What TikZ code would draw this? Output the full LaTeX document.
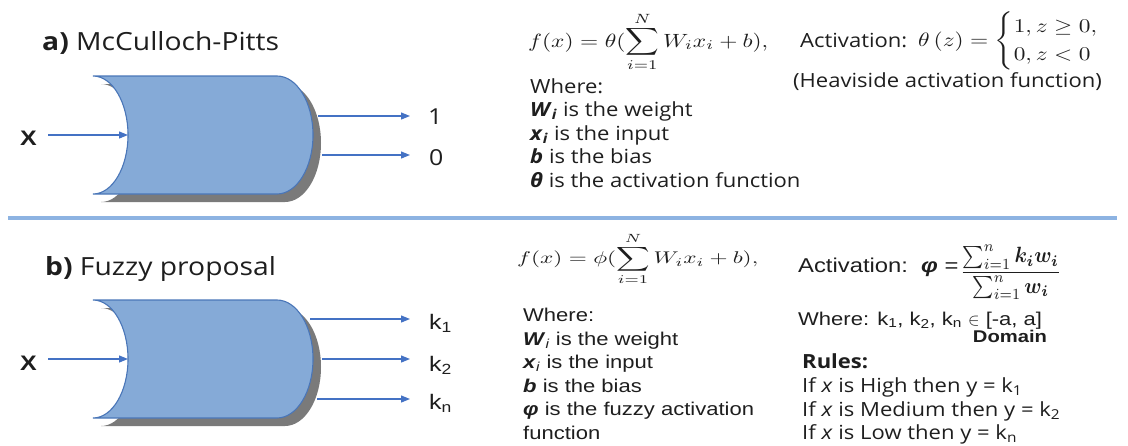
\documentclass[tikz,border=0pt]{standalone}
\usepackage{amsmath}
\usepackage{fontspec}
\setmainfont{Open Sans}[FakeStretch=1.13]
\newfontfamily\arial{Liberation Sans}[FakeStretch=1.19]
\usetikzlibrary{arrows.meta,calc}
\definecolor{gfill}{HTML}{85AAD7}
\definecolor{gline}{HTML}{4A76B8}
\definecolor{arrc}{HTML}{4472C4}
\definecolor{divc}{HTML}{8DB3E2}
\definecolor{shadc}{HTML}{7A7A7A}
\definecolor{txt}{HTML}{1E1E1E}
\tikzset{
  pics/gate/.style={code={
    \path[fill=shadc, shift={(8,8)}] (0,0) -- (184,0) .. controls (203.9,0) and (220,26.4) .. (220,59)
      .. controls (220,91.6) and (203.9,118) .. (184,118) -- (0,118)
      .. controls (19.3,118) and (35,91.6) .. (35,59) .. controls (35,26.4) and (19.3,0) .. (0,0) -- cycle;
    \path[fill=gfill, draw=gline, line width=1.1pt] (0,0) -- (184,0) .. controls (203.9,0) and (220,26.4) .. (220,59)
      .. controls (220,91.6) and (203.9,118) .. (184,118) -- (0,118)
      .. controls (19.3,118) and (35,91.6) .. (35,59) .. controls (35,26.4) and (19.3,0) .. (0,0) -- cycle;
  }},
  arr/.style={draw=arrc, line width=1.2pt, -{Triangle[length=9pt,width=7pt]}},
  head/.style={anchor=base west, inner sep=0pt, text=txt, font=\fontsize{25}{30}\selectfont},
  body/.style={anchor=base west, inner sep=0pt, text=txt, font=\fontsize{19.5}{23}\selectfont},
  abody/.style={anchor=base west, inner sep=0pt, text=txt, font=\arial\fontsize{18.5}{23}\selectfont},
  mathf/.style={anchor=base west, inner sep=0pt, text=txt, font=\fontsize{10}{12}\selectfont},
  xlab/.style={anchor=base, inner sep=0pt, text=txt, font=\arial\bfseries\fontsize{21}{25}\selectfont},
  olab/.style={anchor=base west, inner sep=0pt, text=txt, font=\fontsize{22}{26}\selectfont},
  klab/.style={anchor=base west, inner sep=0pt, text=txt, font=\arial\fontsize{21}{25}\selectfont},
  divider/.style={draw=divc, line width=4pt},
}
\begin{document}
\begin{tikzpicture}[x=1pt,y=-1pt]
\useasboundingbox (0,0) rectangle (1128,445);
% ---------- part a ----------
\node[head] (ta) at (42,50) {\textbf{a)} McCulloch-Pitts};
\pic at (93,76) {gate};
\node[xlab] (xa) at (28.5,145) {X};
\coordinate (ina) at (128,135);
\draw[arr] ($(xa.east |- ina)+(11,0)$) -- (ina);
\coordinate (oa1) at (318,116);
\coordinate (oa2) at (322,155);
\node[olab] (la1) at (428,124) {1};
\node[olab] (la2) at (429,165) {0};
\draw[arr] (oa1) -- ($(oa1 -| la1.west)+(-18,0)$);
\draw[arr] (oa2) -- ($(oa2 -| la2.west)+(-19,0)$);

\node[mathf] (fa) at (528,47) {\resizebox{240pt}{35pt}{$\displaystyle f(x)=\theta(\sum_{i=1}^{N}W_ix_i+b),$}};
\node[body] (acta) at (800,47) {Activation:};
\node[mathf] (tha) at (918,46) {\resizebox{205pt}{34pt}{$\theta\,(z)=\begin{cases}1, z\geq 0,\\ 0, z<0\end{cases}$}};
\node[body] (hva) at (793,87) {(Heaviside activation function)};
\node[body] (wa0) at (530,93) {Where:};
\node[body] (wa1) at (530,116.5) {\textbf{\textit{W}}\textsubscript{\textbf{\textit{i}}} is the weight};
\node[body] (wa2) at (530,140) {\textbf{\textit{x}}\textsubscript{\textbf{\textit{i}}} is the input};
\node[body] (wa3) at (530,163.5) {\textbf{\textit{b}} is the bias};
\node[body] (wa4) at (530,187) {\textbf{\textit{θ}} is the activation function};

% ---------- divider ----------
\coordinate (dl) at (8,218);
\coordinate (dr) at (1117,218);
\draw[divider] (dl) -- (dr);

% ---------- part b ----------
\node[head] (tb) at (45,275) {\textbf{b)} Fuzzy proposal};
\pic at (93,300) {gate};
\node[xlab] (xb) at (28.5,370) {X};
\coordinate (inb) at (128,359);
\draw[arr] ($(xb.east |- inb)+(11,0)$) -- (inb);
\coordinate (ob1) at (310,319);
\coordinate (ob2) at (322,359);
\coordinate (ob3) at (317,399);
\node[klab] (lb1) at (429,329) {k\textsubscript{1}};
\node[klab] (lb2) at (429,371) {k\textsubscript{2}};
\node[klab] (lb3) at (429,409) {k\textsubscript{n}};
\draw[arr] (ob1) -- ($(ob1 -| lb1.west)+(-19,0)$);
\draw[arr] (ob2) -- ($(ob2 -| lb2.west)+(-19,0)$);
\draw[arr] (ob3) -- ($(ob3 -| lb3.west)+(-19,0)$);

\node[mathf] (fb) at (517,263.5) {\resizebox{241pt}{31pt}{$\displaystyle f(x)=\phi(\sum_{i=1}^{N}W_ix_i+b),$}};
\node[abody, font=\arial\fontsize{20}{24}\selectfont] (actb) at (798,272) {Activation:\ \ \textbf{\textit{φ}} =};
\node[mathf] (frb) at (960,278) {\resizebox{101pt}{33pt}{$\dfrac{\sum_{i=1}^{n}\boldsymbol{k_iw_i}}{\sum_{i=1}^{n}\boldsymbol{w_i}}$}};
\node[abody] (domb) at (798,325) {Where: k\textsubscript{1}, k\textsubscript{2}, k\textsubscript{n} $\in$ [-a, a]};
\node[anchor=base, inner sep=0pt, text=txt, font=\arial\bfseries\fontsize{17}{20}\selectfont] (dom) at (1010,342) {Domain};
\node[abody] (wb0) at (523,321) {Where:};
\node[abody] (wb1) at (523,345) {\textbf{\textit{W}}\textsubscript{\textit{i}} is the weight};
\node[abody] (wb2) at (523,368.5) {\textbf{\textit{x}}\textsubscript{\textit{i}} is the input};
\node[abody] (wb3) at (523,392) {\textbf{\textit{b}} is the bias};
\node[abody] (wb4) at (523,415.5) {\textbf{\textit{φ}} is the fuzzy activation};
\node[abody] (wb5) at (523,439) {function};
\node[body] (rb0) at (802,368) {\textbf{Rules:}};
\node[body] (rb1) at (802,392.5) {If \textit{x} is High then y = k\textsubscript{1}};
\node[body] (rb2) at (802,416) {If \textit{x} is Medium then y = k\textsubscript{2}};
\node[body] (rb3) at (802,439.5) {If \textit{x} is Low then y = k\textsubscript{n}};
\end{tikzpicture}
\end{document}
